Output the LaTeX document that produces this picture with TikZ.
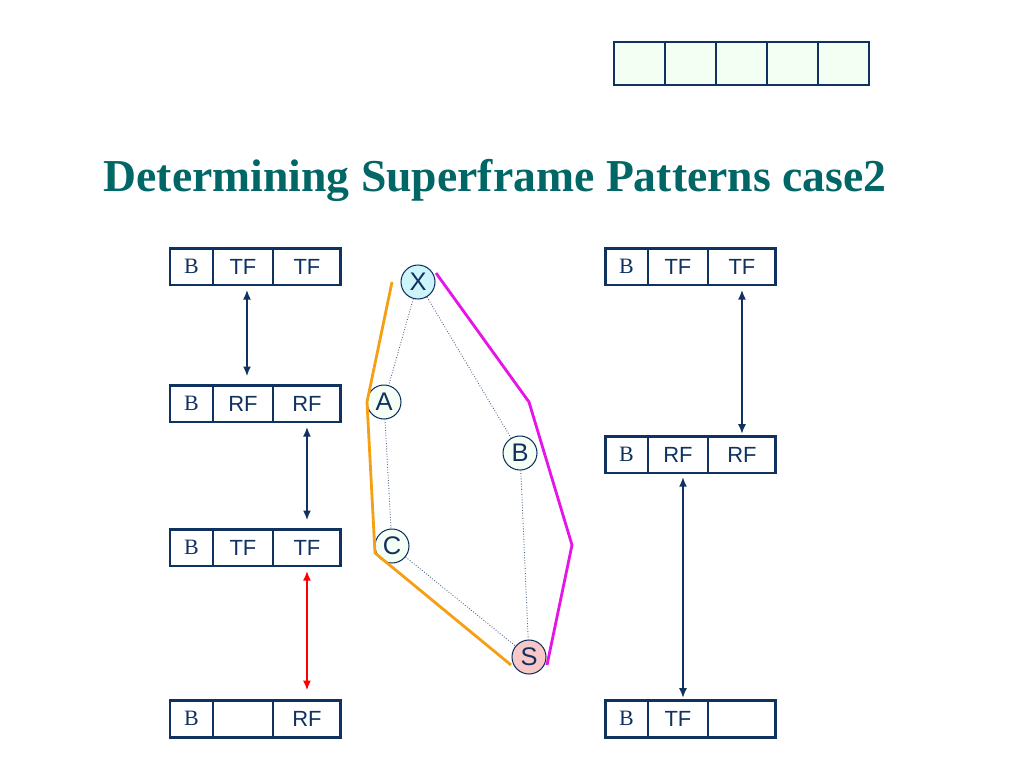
\documentclass[tikz,border=0pt]{standalone}
\usepackage{fontspec}
\setmainfont{Liberation Serif}
\setsansfont{Liberation Sans}
\usetikzlibrary{arrows.meta, positioning}

\definecolor{navy}{RGB}{16,50,96}
\definecolor{teal2}{RGB}{0,102,102}
\definecolor{boxgreen}{RGB}{242,255,242}
\definecolor{nodecyan}{RGB}{204,244,250}
\definecolor{nodepink}{RGB}{248,200,200}
\definecolor{nodewhite}{RGB}{246,255,246}
\definecolor{pathorange}{RGB}{245,160,20}
\definecolor{pathmagenta}{RGB}{230,20,230}

% one superframe: B | middle | right
\newcommand{\superframe}[4]{%
  \node[cell, minimum width=0.86cm, anchor=north west, font=\rmfamily\fontsize{12.5}{14}\selectfont] (#1-b) at #2 {B};
  \node[cell, minimum width=1.2cm, right=0pt of #1-b] (#1-m) {#3};
  \node[cell, minimum width=1.36cm, right=0pt of #1-m] (#1-r) {#4};
  \draw[frameline] (#1-b.north west) rectangle (#1-r.south east);
}

\begin{document}
\begin{tikzpicture}[
    x=0.02cm, y=-0.02cm,
    >={Latex[length=5.5pt,width=4.5pt]},
    cell/.style={rectangle, draw=navy, line width=0.8pt, outer sep=0pt, minimum height=0.74cm, inner sep=0pt, text=navy, font=\sffamily\fontsize{12.5}{14}\selectfont},
    frameline/.style={draw=navy, line width=1.7pt},
    slot/.style={rectangle, draw=navy, line width=0.8pt, outer sep=0pt, fill=boxgreen, minimum width=1.02cm, minimum height=0.86cm, inner sep=0pt},
    link/.style={<->, draw=navy, line width=0.9pt},
    station/.style={circle, draw=navy, line width=0.6pt, minimum size=0.68cm, inner sep=0pt, text=navy, font=\sffamily\fontsize{14.5}{16}\selectfont},
    hop/.style={draw=navy!75, densely dotted, line width=0.5pt},
    route/.style={line width=1.6pt}
]
\useasboundingbox (0,0) rectangle (1024,768);

% slot row at the top
\node[slot, anchor=north west] (slot1) at (614,42) {};
\foreach \i [count=\j from 1] in {2,...,5}
  \node[slot, right=0pt of slot\j] (slot\i) {};

% title
\node[text=teal2, font=\bfseries\fontsize{26}{30}\selectfont] (title) at (495,180) {Determining Superframe Patterns case2};

% left column
\superframe{l1}{(170,248)}{TF}{TF}
\superframe{l2}{(170,385)}{RF}{RF}
\superframe{l3}{(170,529)}{TF}{TF}
\superframe{l4}{(170,700)}{}{RF}

% right column
\superframe{r1}{(605,248)}{TF}{TF}
\superframe{r2}{(605,436)}{RF}{RF}
\superframe{r3}{(605,700)}{TF}{}

% arrows between frames
\draw[link, shorten <=2.8pt, shorten >=5pt] ([xshift=0.08cm]l1-m.south) -- ([xshift=0.08cm]l2-m.north);
\draw[link, shorten <=2.8pt, shorten >=5pt] (l2-r.south) -- (l3-r.north);
\draw[link, draw=red, shorten <=2.8pt, shorten >=5.5pt] (l3-r.south) -- (l4-r.north);
\draw[link, shorten <=2.8pt, shorten >=1.2pt] (r1-r.south) -- (r2-r.north);
\draw[link, shorten <=2.3pt, shorten >=1.2pt] ([xshift=0.1cm]r2-m.south) -- ([xshift=0.1cm]r3-m.north);

% stations
\node[station, fill=nodecyan] (X) at (418,282) {X};
\node[station, fill=nodewhite] (A) at (384,402) {A};
\node[station, fill=nodewhite] (B) at (520,453) {B};
\node[station, fill=nodewhite] (C) at (392,546) {C};
\node[station, fill=nodepink] (S) at (529,657) {S};

\draw[hop] (X) -- (A);
\draw[hop] (X) -- (B);
\draw[hop] (A) -- (C);
\draw[hop] (B) -- (S);
\draw[hop] (C) -- (S);

% routes
\draw[route, pathorange] (392,282) -- (367,402) -- (375,553) -- (511,665);
\draw[route, pathmagenta] (436,273) -- (529,402) -- (572,545) -- (547,665);
\end{tikzpicture}
\end{document}
